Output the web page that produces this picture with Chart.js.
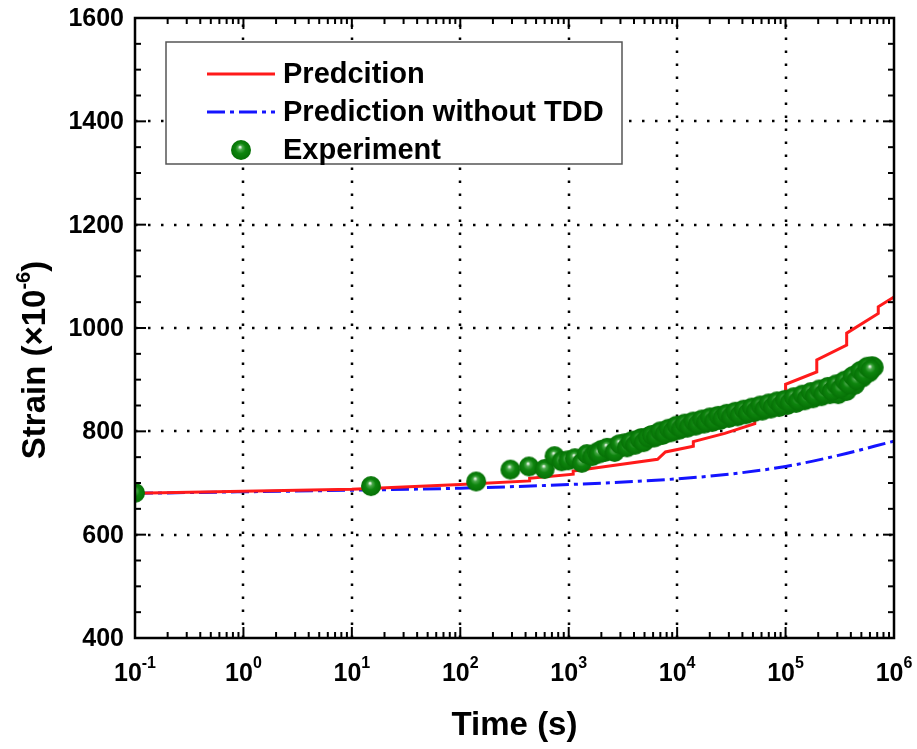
<!DOCTYPE html>
<html>
<head>
<meta charset="utf-8">
<script src="https://cdn.jsdelivr.net/npm/chart.js@4.4.0/dist/chart.umd.min.js"></script>
<style>
  html, body { margin: 0; padding: 0; background: #fff; }
  canvas { display: block; }
</style>
</head>
<body>
<canvas id="strainChart" width="917" height="749"></canvas>
<script>
// series labels
const seriesLabels = ['Predcition', 'Prediction without TDD', 'Experiment'];

// Predcition (red, stepped)
const predTime   = [0.1, 10, 100, 436, 436, 1100, 1100, 6600, 7800, 14100, 14100, 27500, 52000, 52000, 100000, 100000, 194000, 194000, 366000, 366000, 716000, 716000, 1000000];
const predStrain = [680, 688, 697, 704, 709, 717, 723, 746, 760, 771, 780, 796, 815, 826, 850, 891, 915, 938, 967, 990, 1028, 1041, 1060];

// Prediction without TDD (blue dash-dot)
const noTddTime   = [0.1, 1, 10, 100, 1000, 10000, 30000, 100000, 300000, 1000000];
const noTddStrain = [680, 683, 686, 690, 697, 708, 717, 732, 753, 781];

// Experiment (green balls)
const expTime = [0.1, 15, 140, 290, 430, 600, 740, 860, 990, 1140, 1320, 1470, 1650, 1810,
  2000, 2150, 2350, 2550, 2800, 3050, 3300, 3600, 3950, 4300, 4700, 5100, 5600, 6100, 6700,
  7300, 8000, 8700, 9500, 10400, 11300, 12400, 13500, 14800, 16200, 17700, 19300, 21000,
  23000, 25000, 27500, 30000, 33000, 36000, 39500, 43000, 47000, 51000, 56000, 61000, 67000,
  73000, 80000, 87000, 95000, 104000, 114000, 125000, 137000, 150000, 164000, 179000, 196000,
  214000, 234000, 256000, 280000, 306000, 335000, 365000, 400000, 435000, 470000, 510000,
  550000, 590000, 630000, 650000,
  1900, 2250, 2650, 2950, 3450, 3750, 4100, 4500, 4900, 5350, 5850, 6400, 7000, 7650, 8350,
  9100, 9900, 10900, 11800, 12900, 14100, 15500, 17000, 18500, 20100, 22000, 24000, 26200,
  28700, 31500, 34500, 37700, 41200, 45000, 49000, 53500, 58500, 64000, 70000, 76500, 83500,
  91000, 99000, 109000, 119000, 131000, 143000, 157000, 171000, 187000, 205000, 224000,
  245000, 268000, 293000, 320000, 350000, 382000, 417000, 452000, 490000, 530000, 570000, 610000];
const expStrain = [681, 694, 703, 726, 732, 727, 752, 742, 744, 748, 739, 756, 752, 759,
  764, 760, 767, 765, 772, 770, 777, 774, 782, 779, 787, 783, 791, 788, 797,
  793, 802, 798, 808, 803, 812, 807, 816, 811, 820, 815, 824, 818,
  828, 822, 831, 826, 835, 829, 839, 833, 843, 837, 847, 840, 850,
  844, 854, 847, 858, 851, 862, 855, 867, 860, 872, 864, 877,
  868, 882, 872, 887, 872, 894, 878, 903, 890, 913, 904,
  922, 914, 926, 924,
  757, 768, 760, 775, 769, 780, 774, 785, 779, 788, 793, 790, 800, 796, 805,
  801, 811, 806, 815, 810, 819, 814, 823, 818, 827, 821, 830, 826,
  834, 829, 838, 832, 842, 836, 846, 840, 850, 844, 854, 848, 858,
  851, 861, 856, 866, 859, 871, 864, 876, 869, 881, 873,
  886, 878, 891, 883, 898, 891, 907, 899, 917, 910, 925, 920];

// axis ticks
const xTickExponents = [-1, 0, 1, 2, 3, 4, 5, 6];
const yTicks = [400, 600, 800, 1000, 1200, 1400, 1600];
const yMinorStep = 50;

const FONT = '"Liberation Sans", Arial, sans-serif';

function toPoints(xs, ys) {
    return xs.map((x, i) => ({ x: x, y: ys[i] }));
}

// shaded green sphere used as point style
function makeBall(r) {
    const c = document.createElement('canvas');
    const s = Math.ceil(r * 2) + 2;
    c.width = s;
    c.height = s;
    const g = c.getContext('2d');
    const cx = s / 2, cy = s / 2;
    const grad = g.createRadialGradient(cx - r * 0.1, cy - r * 0.3, r * 0.04, cx, cy, r);
    grad.addColorStop(0, '#f2faf2');
    grad.addColorStop(0.2, '#4aa84a');
    grad.addColorStop(0.5, '#0e850e');
    grad.addColorStop(1, '#067006');
    g.fillStyle = grad;
    g.beginPath();
    g.arc(cx, cy, r, 0, Math.PI * 2);
    g.fill();
    return c;
}
const ball = makeBall(10);

const redColor = '#ff1a1a';
const blueColor = '#1414ff';
const blueDash = [18, 5, 4, 5];

function seg(ctx, x1, y1, x2, y2) {
    ctx.beginPath();
    ctx.moveTo(x1, y1);
    ctx.lineTo(x2, y2);
    ctx.stroke();
}

function drawPower(ctx, base, exp, cx, baseline, bigSize, smallSize, rise) {
    ctx.font = 'bold ' + bigSize + 'px ' + FONT;
    const w1 = ctx.measureText(base).width;
    ctx.font = 'bold ' + smallSize + 'px ' + FONT;
    const w2 = ctx.measureText(exp).width;
    const start = cx - (w1 + w2) / 2;
    ctx.textAlign = 'left';
    ctx.textBaseline = 'alphabetic';
    ctx.font = 'bold ' + bigSize + 'px ' + FONT;
    ctx.fillText(base, start, baseline);
    ctx.font = 'bold ' + smallSize + 'px ' + FONT;
    ctx.fillText(exp, start + w1, baseline - rise);
}

const axesPlugin = {
    id: 'axesPlugin',
    beforeDatasetsDraw(chart) {
        const { ctx, chartArea: a, scales: { x, y } } = chart;
        ctx.save();
        ctx.strokeStyle = '#000';
        ctx.lineWidth = 2.5;
        ctx.setLineDash([2.5, 10.5]);
        xTickExponents.slice(1, -1).forEach(e => {
            const px = Math.round(x.getPixelForValue(Math.pow(10, e)));
            seg(ctx, px, a.bottom, px, a.top);
        });
        yTicks.slice(1, -1).forEach(v => {
            const py = Math.round(y.getPixelForValue(v));
            seg(ctx, a.left, py, a.right, py);
        });
        ctx.restore();
    },
    afterDatasetsDraw(chart) {
        const { ctx, chartArea: a, scales: { x, y } } = chart;
        ctx.save();
        ctx.strokeStyle = '#000';
        ctx.fillStyle = '#000';
        ctx.setLineDash([]);

        // ticks, inside, mirrored
        ctx.lineWidth = 2;
        const maj = 11, mnr = 6;
        xTickExponents.forEach(e => {
            const px = x.getPixelForValue(Math.pow(10, e));
            seg(ctx, px, a.bottom, px, a.bottom - maj);
            seg(ctx, px, a.top, px, a.top + maj);
            if (e < xTickExponents[xTickExponents.length - 1]) {
                for (let k = 2; k <= 9; k++) {
                    const mx = x.getPixelForValue(k * Math.pow(10, e));
                    seg(ctx, mx, a.bottom, mx, a.bottom - mnr);
                    seg(ctx, mx, a.top, mx, a.top + mnr);
                }
            }
        });
        for (let v = yTicks[0]; v <= yTicks[yTicks.length - 1]; v += yMinorStep) {
            const py = y.getPixelForValue(v);
            const len = yTicks.includes(v) ? maj : mnr;
            seg(ctx, a.left, py, a.left + len, py);
            seg(ctx, a.right, py, a.right - len, py);
        }

        // frame
        ctx.lineWidth = 2.5;
        ctx.strokeRect(a.left, a.top, a.right - a.left, a.bottom - a.top);

        // y tick labels
        ctx.font = 'bold 25px ' + FONT;
        ctx.textAlign = 'right';
        ctx.textBaseline = 'middle';
        yTicks.forEach(v => {
            ctx.fillText(String(v), a.left - 11, y.getPixelForValue(v) + 1);
        });

        // x tick labels
        xTickExponents.forEach(e => {
            const px = x.getPixelForValue(Math.pow(10, e));
            drawPower(ctx, '10', String(e), px, 681, 25, 16, 13);
        });

        // axis titles
        ctx.font = 'bold 33px ' + FONT;
        ctx.textAlign = 'center';
        ctx.textBaseline = 'middle';
        ctx.fillText('Time (s)', (a.left + a.right) / 2, 726);

        ctx.save();
        ctx.translate(45, 360);
        ctx.rotate(-Math.PI / 2);
        const t1 = 'Strain (\u00d710', t2 = '-6', t3 = ')';
        ctx.font = 'bold 33px ' + FONT;
        const w1 = ctx.measureText(t1).width, w3 = ctx.measureText(t3).width;
        ctx.font = 'bold 20px ' + FONT;
        const w2 = ctx.measureText(t2).width;
        let sx = -(w1 + w2 + w3) / 2;
        ctx.textAlign = 'left';
        ctx.textBaseline = 'alphabetic';
        ctx.font = 'bold 33px ' + FONT;
        ctx.fillText(t1, sx, 0);
        ctx.font = 'bold 20px ' + FONT;
        ctx.fillText(t2, sx + w1, -15);
        ctx.font = 'bold 33px ' + FONT;
        ctx.fillText(t3, sx + w1 + w2, 0);
        ctx.restore();

        // legend
        const lx = 166, ly = 42, lw = 456, lh = 122;
        ctx.fillStyle = '#fff';
        ctx.fillRect(lx, ly, lw, lh);
        ctx.strokeStyle = '#555';
        ctx.lineWidth = 1.5;
        ctx.strokeRect(lx, ly, lw, lh);
        const rows = [74, 112, 150];
        const ds = chart.data.datasets;
        ctx.lineWidth = 3;
        ctx.strokeStyle = ds[0].borderColor;
        seg(ctx, 207, rows[0], 275, rows[0]);
        ctx.lineWidth = 3;
        ctx.strokeStyle = ds[1].borderColor;
        ctx.setLineDash(blueDash);
        seg(ctx, 207, rows[1], 275, rows[1]);
        ctx.setLineDash([]);
        ctx.drawImage(ball, 241 - ball.width / 2, rows[2] - ball.height / 2);
        ctx.fillStyle = '#000';
        ctx.font = 'bold 29px ' + FONT;
        ctx.textAlign = 'left';
        ctx.textBaseline = 'middle';
        ds.forEach((d, i) => ctx.fillText(d.label, 283, rows[i] + 1));

        ctx.restore();
    }
};

const ctx = document.getElementById('strainChart').getContext('2d');
const chart = new Chart(ctx, {
    type: 'scatter',
    data: {
        datasets: [
            {
                label: seriesLabels[0],
                data: toPoints(predTime, predStrain),
                showLine: true,
                borderColor: redColor,
                borderWidth: 3,
                pointRadius: 0,
                tension: 0,
                order: 2
            },
            {
                label: seriesLabels[1],
                data: toPoints(noTddTime, noTddStrain),
                showLine: true,
                borderColor: blueColor,
                borderWidth: 3,
                borderDash: blueDash,
                pointRadius: 0,
                tension: 0,
                cubicInterpolationMode: 'monotone',
                order: 3
            },
            {
                label: seriesLabels[2],
                data: toPoints(expTime, expStrain),
                showLine: false,
                pointStyle: ball,
                pointRadius: 10,
                clip: 0,
                order: 1
            }
        ]
    },
    options: {
        responsive: false,
        animation: false,
        devicePixelRatio: 1,
        layout: { padding: { left: 135, top: 18, right: 23, bottom: 111 } },
        plugins: { legend: { display: false }, tooltip: { enabled: false } },
        scales: {
            x: { type: 'logarithmic', min: 0.1, max: 1000000, display: false },
            y: { type: 'linear', min: 400, max: 1600, display: false }
        }
    },
    plugins: [axesPlugin]
});
</script>
</body>
</html>
